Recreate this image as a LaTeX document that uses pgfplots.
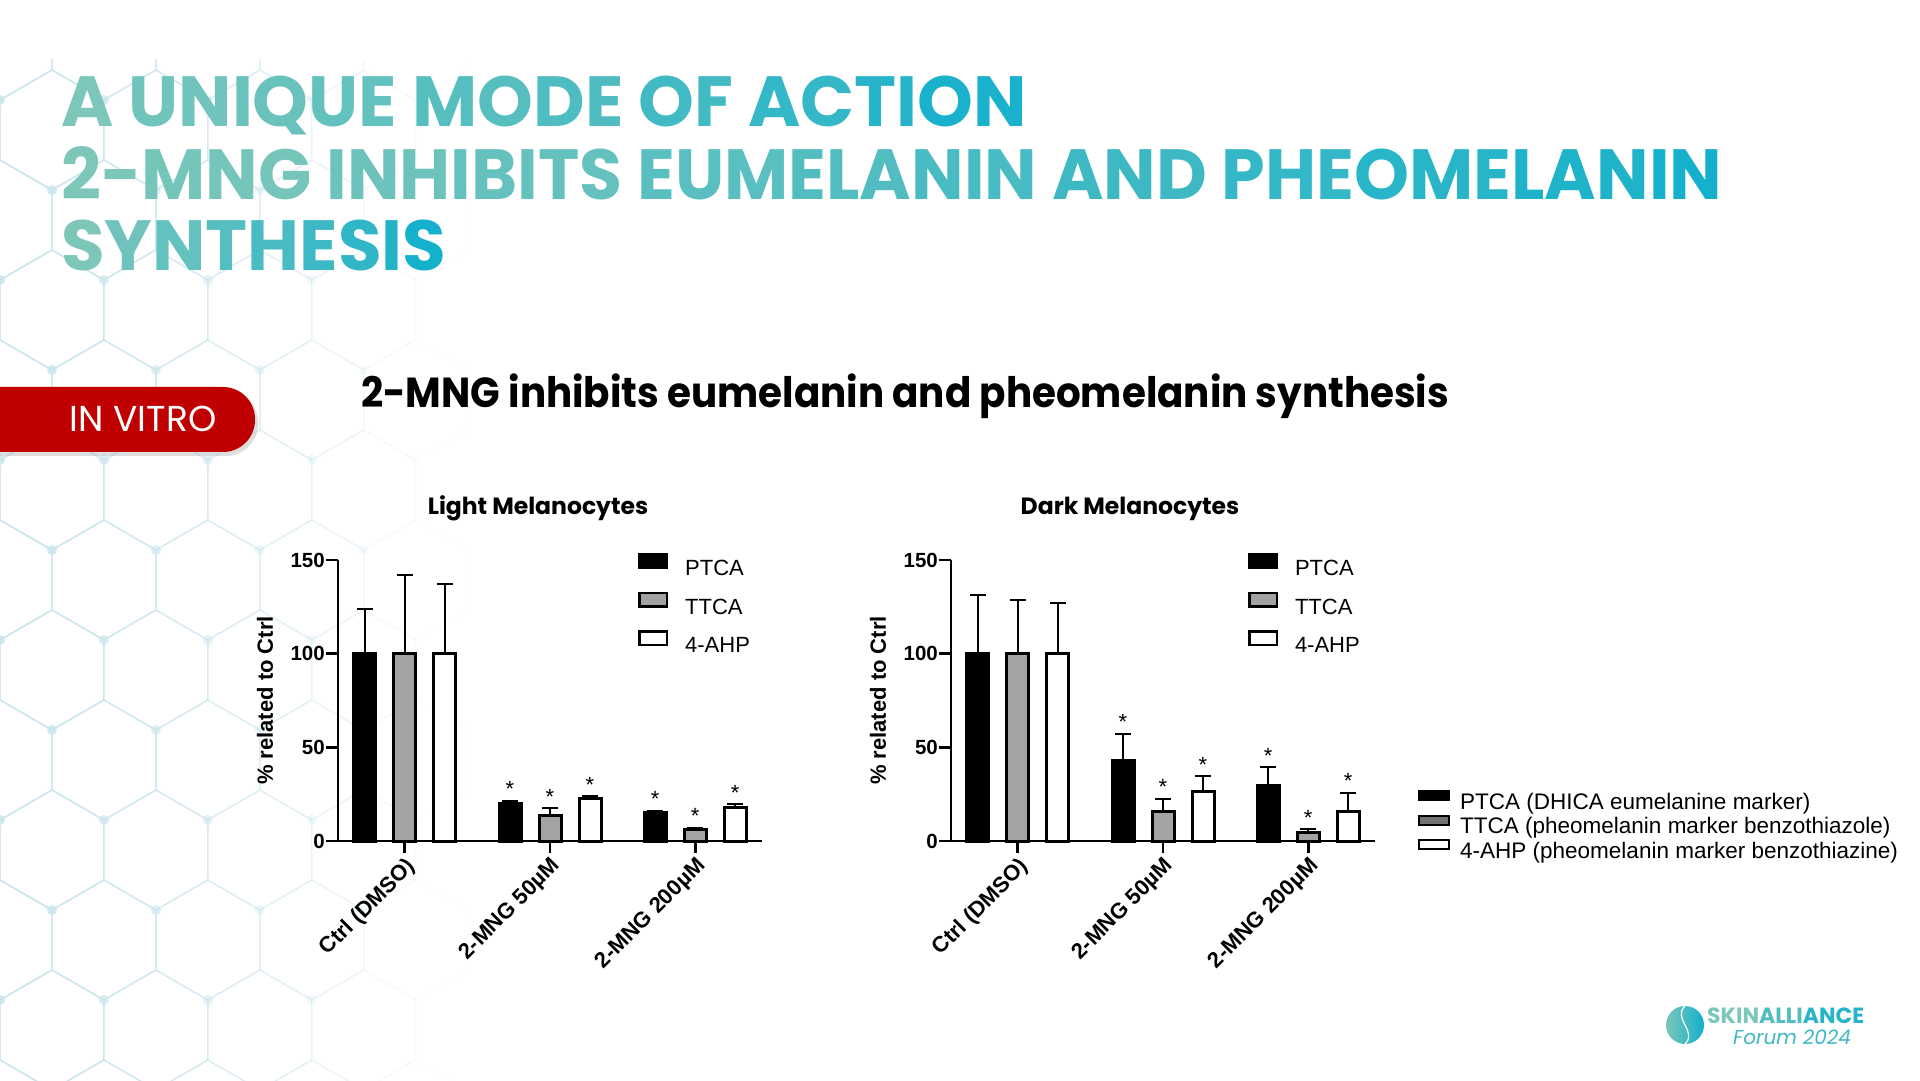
\documentclass[border=0pt]{standalone}
\usepackage{pgfplots}
\usepackage{pgfplotstable}
\pgfplotsset{compat=1.18}
\usepackage{fontspec}
\setmainfont{Liberation Sans}
\newfontfamily\pop{Poppins}
\newfontfamily\lib{Liberation Sans}

\definecolor{tgreen}{HTML}{7CC6BA}
\definecolor{tblue}{HTML}{12B0CC}
\definecolor{hexc}{HTML}{C9E5EE}
\definecolor{ivred}{HTML}{C00000}
\definecolor{bargray}{HTML}{A3A3A3}
\newcommand\cm[2]{\textcolor{tblue!#1!tgreen}{#2}}

\pgfplotstableread{
x y e
0 100 24
1 20 1.5
2 15 1.2
}\LPTCA
\pgfplotstableread{
x y e
0 100 42
1 13.5 4
2 6.2 0.8
}\LTTCA
\pgfplotstableread{
x y e
0 100 37
1 22.7 1.3
2 17.8 1.8
}\LAHP
\pgfplotstableread{
x y e
0 100 31.3
1 43.2 14.1
2 29.4 9.9
}\DPTCA
\pgfplotstableread{
x y e
0 100 28.5
1 15.5 7.1
2 4.6 1.8
}\DTTCA
\pgfplotstableread{
x y e
0 100 27.2
1 26.3 8.2
2 15.7 10.1
}\DAHP

\def\off{0.2755}

\pgfplotsset{
  ax/.style={scale only axis, width=424pt, height=281pt,
    xmin=-0.46, xmax=2.46, ymin=0, ymax=150,
    axis lines=left, axis line style={line width=2.7pt, -},
    tick style={line width=2.7pt, black}, major tick length=12pt, tick align=outside,
    xtick={0,1,2}, xticklabels={Ctrl (DMSO), 2-MNG 50µM, 2-MNG 200µM},
    ytick={0,50,100,150},
    xticklabel shift=0pt,
    xticklabel style={rotate=45, anchor=north east, inner sep=2pt,
      font=\lib\bfseries\fontsize{22}{22}\selectfont},
    yticklabel style={inner sep=1pt, font=\lib\bfseries\fontsize{20.5}{20.5}\selectfont},
    ylabel={\% related to Ctrl},
    ylabel style={at={(axis description cs:-0.172,0.5)}, anchor=center, rotate=0,
      font=\lib\bfseries\fontsize{22}{22}\selectfont},
    clip=false, /pgf/number format/assume math mode=true,
    legend style={draw=none, fill=none, inner sep=0pt, row sep=12pt,
      font=\lib\fontsize{22}{22}\selectfont, legend cell align=left,
      nodes={inner sep=0pt, text height=17pt, text depth=4pt},
      /tikz/every odd column/.append style={column sep=17pt}},
  },
  lbox/.style={legend image code/.code={\draw[##1] (1.25pt,1.25pt) rectangle (28.75pt,14.75pt);}},
  bbox/.style={legend image code/.code={\draw[##1] (1pt,3.5pt) rectangle (31pt,12.5pt);}},
  pbar/.style={ybar, bar width=22pt, bar shift=0pt, line width=3pt, draw=black, forget plot,
    error bars/y dir=plus, error bars/y explicit,
    error bars/error bar style={line width=2pt, black},
    error bars/error mark options={rotate=90, mark size=8pt, line width=2pt, black}},
  star/.style={ybar, bar width=22pt, bar shift=0pt, draw=none, fill=none, forget plot,
    nodes near coords={*},
    every node near coord/.append style={anchor=base, yshift=4pt, inner sep=0pt, black,
      font=\lib\fontsize{22}{22}\selectfont}},
}

\begin{document}
\begin{tikzpicture}[x=1pt,y=1pt]
\useasboundingbox[fill=white] (0,0) rectangle (1920,1080);
% background hexagon decoration
\begin{scope}
\clip (0,0) rectangle (1920,1020);
\foreach \j in {0,...,12} {
  \foreach \i in {-1,...,6} {
    \pgfmathsetmacro{\cx}{\i*103.92 + mod(\j,2)*51.96}
    \pgfmathsetmacro{\cy}{1040 - \j*90}
    \pgfmathsetmacro{\op}{max(0, min(0.85, 0.95 - \cx/450))}
    \draw[hexc, line width=1.4pt, opacity=\op] (\cx,\cy) +(30:60) -- +(90:60) -- +(150:60) -- +(210:60) -- +(270:60) -- +(330:60) -- cycle;
    \fill[hexc, opacity=\op] (\cx,\cy) +(270:60) circle (5);
  }
}
\end{scope}

% titles
\node[anchor=base west, inner sep=0pt, font=\pop\bfseries\fontsize{71}{71}\selectfont] at (61,953)
 {\cm{0}{A} \cm{10}{UN}\cm{17}{IQ}\cm{24}{UE} \cm{35}{MO}\cm{43}{DE} \cm{55}{OF} \cm{68}{AC}\cm{80}{TI}\cm{93}{ON}};
\node[anchor=base west, inner sep=0pt, font=\pop\bfseries\fontsize{71}{71}\selectfont] at (61,880)
 {\scalebox{0.985}[1]{\cm{0}{2-}\cm{6}{MNG} \cm{14}{INH}\cm{22}{IBITS} \cm{32}{EUM}\cm{40}{ELA}\cm{48}{NIN} \cm{58}{AND} \cm{68}{PHE}\cm{78}{OME}\cm{88}{LAN}\cm{98}{IN}}};
\node[anchor=base west, inner sep=0pt, font=\pop\bfseries\fontsize{71}{71}\selectfont] at (61,809)
 {\cm{0}{S}\cm{12}{Y}\cm{24}{N}\cm{36}{T}\cm{48}{H}\cm{60}{E}\cm{72}{S}\cm{85}{I}\cm{98}{S}};

% IN VITRO pill
\begin{scope}
\clip (0,0) rectangle (1920,1080);
\fill[black!25, opacity=0.5, rounded corners=32pt] (-40,624) rectangle (258,690);
\fill[ivred, rounded corners=32pt] (-40,628) rectangle (255,693);
\end{scope}
\node[white, inner sep=0pt, font=\pop\fontsize{36}{36}\selectfont] at (143,661) {IN VITRO};

% subtitle
\node[anchor=base west, inner sep=0pt, font=\pop\bfseries\fontsize{42}{42}\selectfont] at (361,672)
 {\scalebox{0.925}[1]{2-MNG inhibits eumelanin and pheomelanin synthesis}};

% chart titles
\node[anchor=base, inner sep=0pt, font=\pop\bfseries\fontsize{23.5}{23.5}\selectfont] at (538,565) {Light Melanocytes};
\node[anchor=base, inner sep=0pt, font=\pop\bfseries\fontsize{23.5}{23.5}\selectfont] at (1130,565) {Dark Melanocytes};

% Light chart
\begin{axis}[ax, at={(338pt,239pt)}, anchor=south west,
  legend style={at={(axis description cs:0.7075,1.025)}, anchor=north west}]
\addplot[pbar, fill=black] table[x expr=\thisrow{x}-\off, y=y, y error=e] {\LPTCA};
\addplot[pbar, fill=bargray] table[x=x, y=y, y error=e] {\LTTCA};
\addplot[pbar, fill=white] table[x expr=\thisrow{x}+\off, y=y, y error=e] {\LAHP};
\addplot[star] table[x expr=\thisrow{x}-\off, y expr=\thisrow{y}+\thisrow{e}, skip coords between index={0}{1}] {\LPTCA};
\addplot[star] table[x=x, y expr=\thisrow{y}+\thisrow{e}, skip coords between index={0}{1}] {\LTTCA};
\addplot[star] table[x expr=\thisrow{x}+\off, y expr=\thisrow{y}+\thisrow{e}, skip coords between index={0}{1}] {\LAHP};
\addlegendimage{lbox, fill=black, draw=black, line width=2.5pt}
\addlegendentry{PTCA}
\addlegendimage{lbox, fill=bargray, draw=black, line width=2.5pt}
\addlegendentry{TTCA}
\addlegendimage{lbox, fill=white, draw=black, line width=2.5pt}
\addlegendentry{4-AHP}
\end{axis}

% Dark chart
\begin{axis}[ax, at={(951pt,239pt)}, anchor=south west,
  legend style={at={(axis description cs:0.700,1.025)}, anchor=north west}]
\addplot[pbar, fill=black] table[x expr=\thisrow{x}-\off, y=y, y error=e] {\DPTCA};
\addplot[pbar, fill=bargray] table[x=x, y=y, y error=e] {\DTTCA};
\addplot[pbar, fill=white] table[x expr=\thisrow{x}+\off, y=y, y error=e] {\DAHP};
\addplot[star] table[x expr=\thisrow{x}-\off, y expr=\thisrow{y}+\thisrow{e}, skip coords between index={0}{1}] {\DPTCA};
\addplot[star] table[x=x, y expr=\thisrow{y}+\thisrow{e}, skip coords between index={0}{1}] {\DTTCA};
\addplot[star] table[x expr=\thisrow{x}+\off, y expr=\thisrow{y}+\thisrow{e}, skip coords between index={0}{1}] {\DAHP};
\addlegendimage{lbox, fill=black, draw=black, line width=2.5pt}
\addlegendentry{PTCA}
\addlegendimage{lbox, fill=bargray, draw=black, line width=2.5pt}
\addlegendentry{TTCA}
\addlegendimage{lbox, fill=white, draw=black, line width=2.5pt}
\addlegendentry{4-AHP}
\end{axis}

% bottom legend
\begin{axis}[at={(1418pt,290pt)}, anchor=north west, hide axis, scale only axis,
  width=10pt, height=10pt, xmin=0, xmax=1, ymin=0, ymax=1,
  legend style={at={(axis description cs:0,1)}, anchor=north west, draw=none, fill=none,
    inner sep=0pt, row sep=0.5pt, font=\lib\fontsize{22.5}{22.5}\selectfont, legend cell align=left,
    nodes={inner sep=0pt, text height=16pt, text depth=5pt},
    /tikz/every odd column/.append style={column sep=10pt}}]
\addlegendimage{bbox, fill=black, draw=black, line width=2pt}
\addlegendentry{PTCA (DHICA eumelanine marker)}
\addlegendimage{bbox, fill=black!55, draw=black, line width=2pt}
\addlegendentry{TTCA (pheomelanin marker benzothiazole)}
\addlegendimage{bbox, fill=white, draw=black, line width=2pt}
\addlegendentry{4-AHP (pheomelanin marker benzothiazine)}
\end{axis}

% logo
\shade[left color=tgreen, right color=tblue] (1685,55) circle (19);
\draw[white, line width=1.2pt] (1685,74) .. controls (1672,62) and (1698,48) .. (1685,36);
\node[anchor=base west, inner sep=0pt, font=\pop\bfseries\fontsize{22}{22}\selectfont] at (1707,57)
 {\cm{0}{SKIN}\cm{40}{ALLI}\cm{80}{ANCE}};
\node[anchor=base west, inner sep=0pt, font=\pop\itshape\fontsize{20}{20}\selectfont, text=tblue!60!tgreen] at (1733,36) {Forum 2024};
\end{tikzpicture}
\end{document}
